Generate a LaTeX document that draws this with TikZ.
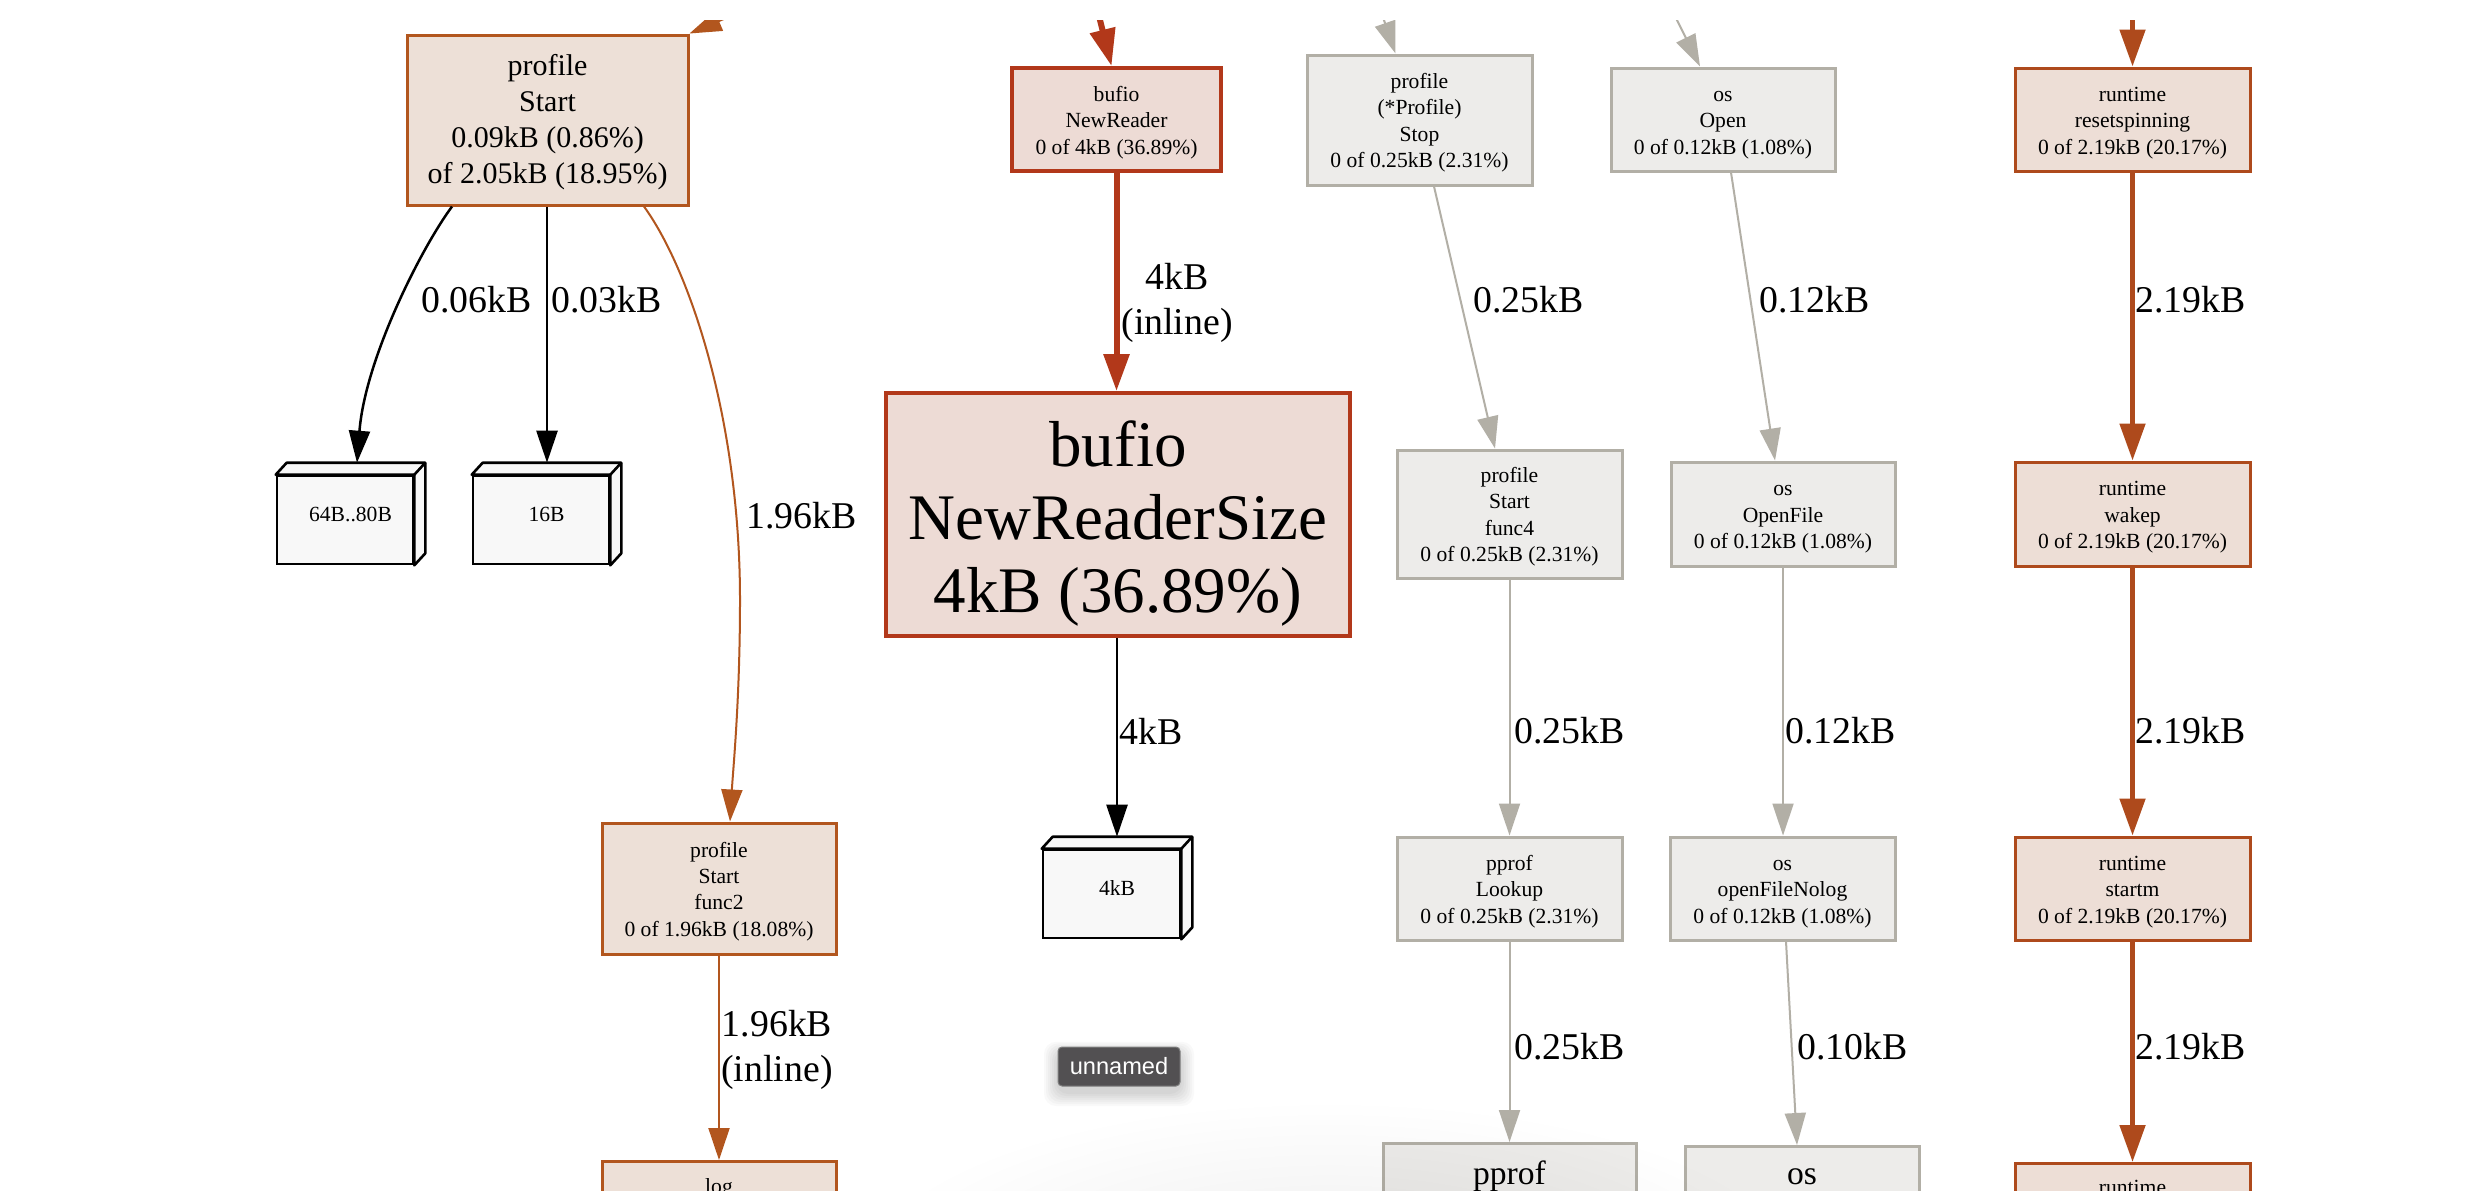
\documentclass[tikz,border=0pt]{standalone}
\usepackage{fontspec}
\setmainfont{Liberation Serif}
\newfontfamily\badgefont{Liberation Sans}
\usetikzlibrary{arrows.meta,calc,fadings}
\definecolor{grayfg}{HTML}{B2AFA6}
\definecolor{graybg}{HTML}{EDECEA}
\definecolor{brownfg}{HTML}{B2561E}
\definecolor{brownbg}{HTML}{EDE0D7}
\definecolor{redfg}{HTML}{B2381A}
\definecolor{redbg}{HTML}{EDDBD5}
\definecolor{rustfg}{HTML}{AE4A1C}
\definecolor{rustbg}{HTML}{EDDED6}
\definecolor{tagbg}{HTML}{F8F8F8}
\definecolor{badgebg}{HTML}{525052}
\newcommand\smallfnt{\fontsize{10.8pt}{13.2pt}\selectfont}
\newcommand\midfnt{\fontsize{15pt}{17.9pt}\selectfont}
\newcommand\lblfnt{\fontsize{18.9pt}{22.5pt}\selectfont}
\newcommand\hugefnt{\fontsize{32.5pt}{36.5pt}\selectfont}
\newcommand\botfnt{\fontsize{16.8pt}{20pt}\selectfont}
\newcommand\badgefnt{\badgefont\fontsize{11.8pt}{13pt}\selectfont}
% struts that push the first line down a little
\newcommand\dns{\rule{0pt}{10.4pt}}
\newcommand\dnm{\rule{0pt}{12.7pt}}
\newcommand\dnh{\rule{0pt}{31.6pt}}
\newcommand\depthfaces[1]{%
  \filldraw[tagface] (#1.north west) -- ++(11,-12) -- ([shift={(11,-12)}]#1.north east)
    -- ([shift={(11,-12)}]#1.south east) -- (#1.south east) -- (#1.north east) -- cycle;
  \draw[tagface,fill=none] (#1.north east) -- ++(11,-12);}
\tikzfading[name=softspot, inner color=transparent!0, outer color=transparent!100]
\tikzset{
  wh/.style 2 args={minimum width=#1*0.5pt, minimum height=#2*0.5pt},
  fbox/.style={draw, line width=1.5pt, align=center, font=\smallfnt},
  graybox/.style={fbox, draw=grayfg, fill=graybg},
  brownbox/.style={fbox, draw=brownfg, fill=brownbg},
  redbox/.style={fbox, draw=redfg, fill=redbg, line width=2pt},
  rustbox/.style={fbox, draw=rustfg, fill=rustbg},
  tagbox/.style={draw=black, fill=tagbg, line width=1.3pt},
  tagtext/.style={font=\smallfnt},
  tagface/.style={draw=black, fill=tagbg, line width=1.3pt, line join=round},
  lbl/.style={font=\lblfnt, align=center, anchor=west},
  thinhead/.style={-{Triangle[length=16pt,width=10.5pt]}},
  thickhead/.style={-{Triangle[length=18.5pt,width=12.5pt]}},
  grayedge/.style={thinhead, draw=grayfg, line width=1pt},
  blackedge/.style={thinhead, draw=black, line width=1.25pt},
  brownedge/.style={thinhead, draw=brownfg, line width=1pt},
  rededge/.style={thickhead, draw=redfg, line width=3pt},
  rustedge/.style={thickhead, draw=rustfg, line width=2.5pt},
  badge/.style={fill=badgebg, draw=black!50, line width=0.5pt, rounded corners=2pt,
    text=white, font=\badgefnt},
  badgeshade/.style={fill=black, opacity=0.022, rounded corners=6pt},
}
\begin{document}
\begin{tikzpicture}[x=0.5pt,y=-0.5pt, every node/.style={inner sep=0pt}]
\useasboundingbox (0,0) rectangle (2476,1190);
\fill[white] (0,0) rectangle (2476,1190);
\begin{scope}
\clip (0,20) rectangle (2476,1190);

% ---------- nodes ----------
\node[brownbox, wh={281}{170}, font=\midfnt] (ps) at (547.5,120)
  {\dnm profile\\Start\\0.09kB (0.86\%)\\of 2.05kB (18.95\%)};
\node[tagbox, wh={136}{88}] (b64) at (345,520) {};
\node[tagbox, wh={136}{88}] (b16) at (541,520) {};
\node[brownbox, wh={234}{131}] (f2) at (719,888.5)
  {\dns profile\\Start\\func2\\0 of 1.96kB (18.08\%)};
\node[brownbox, wh={234}{200}, anchor=north] (logb) at (719,1160) {};
\node[anchor=base, font=\smallfnt] (logt) at (719,1193) {log};

\node[redbox, wh={209}{103}] (nr) at (1116.5,119.5)
  {\dns bufio\\NewReader\\0 of 4kB (36.89\%)};
\node[redbox, wh={464}{243}, font=\hugefnt] (nrs) at (1118,514.5)
  {\dnh bufio\\NewReaderSize\\4kB (36.89\%)};
\node[tagbox, wh={137}{88}] (b4k) at (1111.5,894) {};

\node[graybox, wh={225}{130}] (pstop) at (1419.5,120)
  {\dns profile\\(*Profile)\\Stop\\0 of 0.25kB (2.31\%)};
\node[graybox, wh={225}{128}] (pf4) at (1509.5,514)
  {\dns profile\\Start\\func4\\0 of 0.25kB (2.31\%)};
\node[graybox, wh={225}{103}] (pl) at (1509.5,888.5)
  {\dns pprof\\Lookup\\0 of 0.25kB (2.31\%)};
\node[graybox, wh={253}{200}, anchor=north] (pp) at (1509.5,1142) {};
\node[anchor=base, font=\botfnt] (ppt) at (1509.5,1184) {pprof};

\node[graybox, wh={224}{103}] (oo) at (1723,119.5)
  {\dns os\\Open\\0 of 0.12kB (1.08\%)};
\node[graybox, wh={224}{104}] (of) at (1783,514)
  {\dns os\\OpenFile\\0 of 0.12kB (1.08\%)};
\node[graybox, wh={225}{103}] (ofn) at (1782.5,888.5)
  {\dns os\\openFileNolog\\0 of 0.12kB (1.08\%)};
\node[graybox, wh={234}{200}, anchor=north] (osb) at (1802,1145) {};
\node[anchor=base, font=\botfnt] (osbt) at (1802,1184) {os};

\node[rustbox, wh={235}{103}] (rr) at (2132.5,119.5)
  {\dns runtime\\resetspinning\\0 of 2.19kB (20.17\%)};
\node[rustbox, wh={235}{104}] (rw) at (2132.5,514)
  {\dns runtime\\wakep\\0 of 2.19kB (20.17\%)};
\node[rustbox, wh={235}{103}] (rs) at (2132.5,888.5)
  {\dns runtime\\startm\\0 of 2.19kB (20.17\%)};
\node[rustbox, wh={235}{200}, anchor=north] (rb) at (2132.5,1162) {};
\node[anchor=base, font=\smallfnt] (rbt) at (2132.5,1194) {runtime};

\depthfaces{b64}
\depthfaces{b16}
\depthfaces{b4k}
\node[tagtext] (b64t) at ($(b64.center)+(5.5,-6)$) {64B..80B};
\node[tagtext] (b16t) at ($(b16.center)+(5.5,-6)$) {16B};
\node[tagtext] (b4kt) at ($(b4k.center)+(5.5,-6)$) {4kB};

% ---------- free ends ----------
\coordinate (in1) at (759,4);
\coordinate (in2) at (1095,0);
\coordinate (in3) at (1377,0);
\coordinate (in4) at (1667,0);
\coordinate (in5) at (2132.5,0);

% ---------- edges ----------
\draw[brownedge] (in1) -- (ps.north east);
\draw[rededge] (in2) -- ($(nr.north)+(-5,0)$);
\draw[grayedge] (in3) -- ($(pstop.north)+(-24,0)$);
\draw[grayedge] (in4) -- ($(oo.north)+(-23,0)$);
\draw[rustedge] (in5) -- (rr.north);

\draw[blackedge] ($(ps.south)+(-95.5,0)$) .. controls (420,250) and (365,360) .. ($(b64.north)+(12,-12)$);
\draw[blackedge] ($(ps.south)+(-0.5,0)$) -- ($(b16.north)+(6,-12)$);
\draw[brownedge] ($(ps.south)+(96.5,0)$) .. controls (690,270) and (740,420) .. (740,600)
  .. controls (740,700) and (733,770) .. ($(f2.north)+(11,0)$);
\draw[brownedge] (f2.south) -- (logb.north);

\draw[rededge] (nr.south) -- (nrs.north -| nr.south);
\draw[blackedge] ($(nrs.south)+(-1,0)$) -- ($(b4k.north)+(5.5,-12)$);

\draw[grayedge] ($(pstop.south)+(14.5,0)$) -- ($(pf4.north)+(-14.5,0)$);
\draw[grayedge] (pf4.south) -- (pl.north);
\draw[grayedge] (pl.south) -- (pp.north);

\draw[grayedge] ($(oo.south)+(8,0)$) -- ($(of.north)+(-8,0)$);
\draw[grayedge] (of.south) -- (ofn.north -| of.south);
\draw[grayedge] ($(ofn.south)+(3.5,0)$) -- ($(osb.north)+(-5,0)$);

\draw[rustedge] (rr.south) -- (rw.north);
\draw[rustedge] (rw.south) -- (rs.north);
\draw[rustedge] (rs.south) -- (rb.north);

% ---------- edge labels ----------
\node[lbl] (l1) at (421,300) {0.06kB};
\node[lbl] (l2) at (551,300) {0.03kB};
\node[lbl] (l3) at (746,516) {1.96kB};
\node[lbl] (l4) at (721,1050) {1.96kB\\(inline)};
\node[lbl] (l5) at (1121,303) {4kB\\(inline)};
\node[lbl] (l6) at (1119,731) {4kB};
\node[lbl] (l7) at (1473,300) {0.25kB};
\node[lbl] (l8) at (1514,731) {0.25kB};
\node[lbl] (l9) at (1514,1047) {0.25kB};
\node[lbl] (l10) at (1759,300) {0.12kB};
\node[lbl] (l11) at (1785,731) {0.12kB};
\node[lbl] (l12) at (1797,1047) {0.10kB};
\node[lbl] (l13) at (2135,300) {2.19kB};
\node[lbl] (l14) at (2135,731) {2.19kB};
\node[lbl] (l15) at (2135,1047) {2.19kB};

% ---------- badge with soft shadow ----------
\coordinate (unc) at (1119,1066.5);
\foreach \i in {1,...,7}
  \fill[badgeshade] ($(unc)+(-61-2*\i,-19.5+6-1.6*\i)$) rectangle ($(unc)+(61+2*\i,19.5+6+2*\i)$);
\node[badge, wh={122}{39}] (un) at (unc) {unnamed};

% soft shadow near the bottom edge
\fill[black, opacity=0.07, path fading=softspot] (1330,1280) ellipse [x radius=240pt, y radius=90pt];
\end{scope}
\end{tikzpicture}
\end{document}
